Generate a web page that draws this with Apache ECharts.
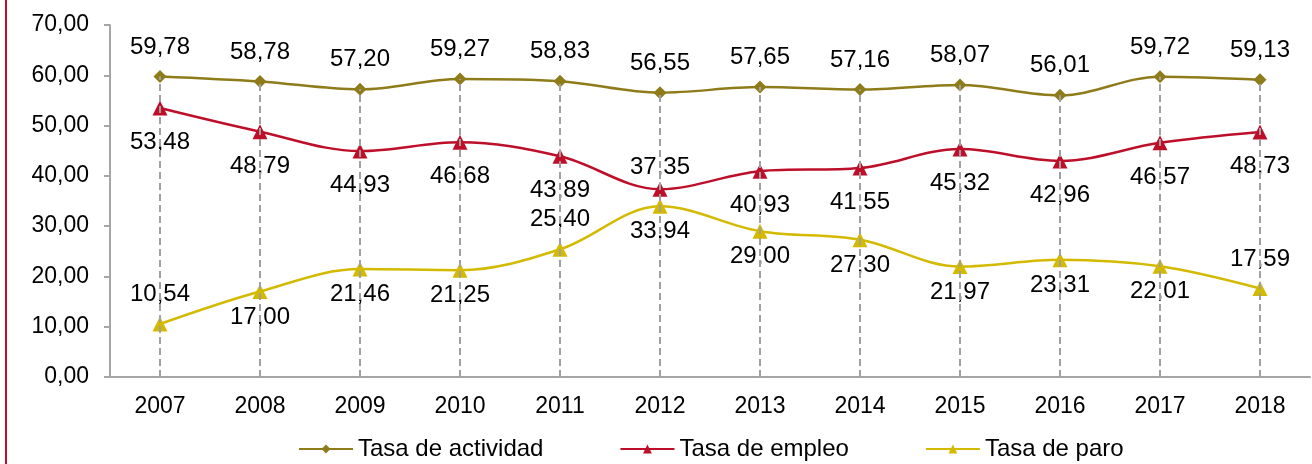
<!DOCTYPE html>
<html>
<head>
<meta charset="utf-8">
<script src="https://cdn.jsdelivr.net/npm/echarts@6/dist/echarts.min.js"></script>
<style>
  html, body { margin: 0; padding: 0; background: #fff; }
  #chart { width: 1312px; height: 464px; }
</style>
</head>
<body>
<div id="chart"></div>
<script>
const years = ["2007", "2008", "2009", "2010", "2011", "2012", "2013", "2014", "2015", "2016", "2017", "2018"];
const actividad = [59.78, 58.78, 57.20, 59.27, 58.83, 56.55, 57.65, 57.16, 58.07, 56.01, 59.72, 59.13];
const empleo = [53.48, 48.79, 44.93, 46.68, 43.89, 37.35, 40.93, 41.55, 45.32, 42.96, 46.57, 48.73];
const paro = [10.54, 17.00, 21.46, 21.25, 25.40, 33.94, 29.00, 27.30, 21.97, 23.31, 22.01, 17.59];

// which labels sit above the point (others go below)
const empleoAbove = [5];
const paroAbove = [0, 4, 11];

const fmt = (v) => v.toFixed(2).replace(".", ",");
const font = "Liberation Sans, Arial, sans-serif";

const labelled = (vals, above, dUp, dDown) =>
  vals.map((v, i) => {
    const up = above.includes(i);
    return {
      value: v,
      label: { position: up ? "top" : "bottom", distance: up ? dUp : dDown },
    };
  });

const dataLabel = {
  show: true,
  fontSize: 24,
  color: "#000",
  fontFamily: font,
  formatter: (p) => fmt(p.value),
};

const chart = echarts.init(document.getElementById("chart"));
chart.setOption({
  animation: false,
  textStyle: { fontFamily: font },
  graphic: [
    {
      type: "rect",
      shape: { x: 5, y: 0, width: 2, height: 464 },
      style: { fill: "#C0102E" },
    },
  ],
  grid: { left: 110, right: 2, top: 25, bottom: 87 },
  legend: {
    bottom: 3,
    left: 298,
    padding: 0,
    itemWidth: 54,
    itemHeight: 11,
    itemGap: 76,
    textStyle: { fontSize: 24, color: "#000", fontFamily: font },
    data: ["Tasa de actividad", "Tasa de empleo", "Tasa de paro"],
  },
  xAxis: {
    type: "category",
    data: years,
    boundaryGap: true,
    axisLine: { lineStyle: { color: "#A6A6A6", width: 2 } },
    axisTick: { show: false },
    axisLabel: { fontSize: 23, color: "#000", margin: 18, fontFamily: font },
  },
  yAxis: {
    type: "value",
    min: 0,
    max: 70,
    interval: 10,
    axisLine: { show: true, lineStyle: { color: "#A6A6A6", width: 2 } },
    axisTick: { show: true, length: 6, lineStyle: { color: "#A6A6A6", width: 2 } },
    splitLine: { show: false },
    axisLabel: { fontSize: 23, color: "#000", margin: 21, fontFamily: font, formatter: fmt },
  },
  series: [
    {
      name: "Tasa de actividad",
      type: "line",
      smooth: 0.35,
      data: actividad,
      symbol: "diamond",
      symbolSize: 13,
      itemStyle: { color: "#8E7B1A" },
      lineStyle: { color: "#8E7B1A", width: 2.5 },
      label: Object.assign({}, dataLabel, { position: "top", distance: 11 }),
      markLine: {
        silent: true,
        symbol: "none",
        label: { show: false },
        lineStyle: { color: "#A0A0A0", type: [7, 4], width: 2 },
        data: actividad.map((v, i) => [
          { xAxis: i, yAxis: 0 },
          { xAxis: i, yAxis: v },
        ]),
      },
      z: 3,
    },
    {
      name: "Tasa de empleo",
      type: "line",
      smooth: 0.35,
      data: labelled(empleo, empleoAbove, 2, 15),
      symbol: "triangle",
      symbolSize: 15,
      itemStyle: { color: "#BE0F2A" },
      lineStyle: { color: "#BE0F2A", width: 2.5 },
      label: dataLabel,
      z: 3,
    },
    {
      name: "Tasa de paro",
      type: "line",
      smooth: 0.35,
      data: labelled(paro, paroAbove, 10, 6),
      symbol: "triangle",
      symbolSize: 15,
      itemStyle: { color: "#D3BA00" },
      lineStyle: { color: "#D3BA00", width: 2.5 },
      label: dataLabel,
      z: 3,
    },
  ],
});
</script>
</body>
</html>
